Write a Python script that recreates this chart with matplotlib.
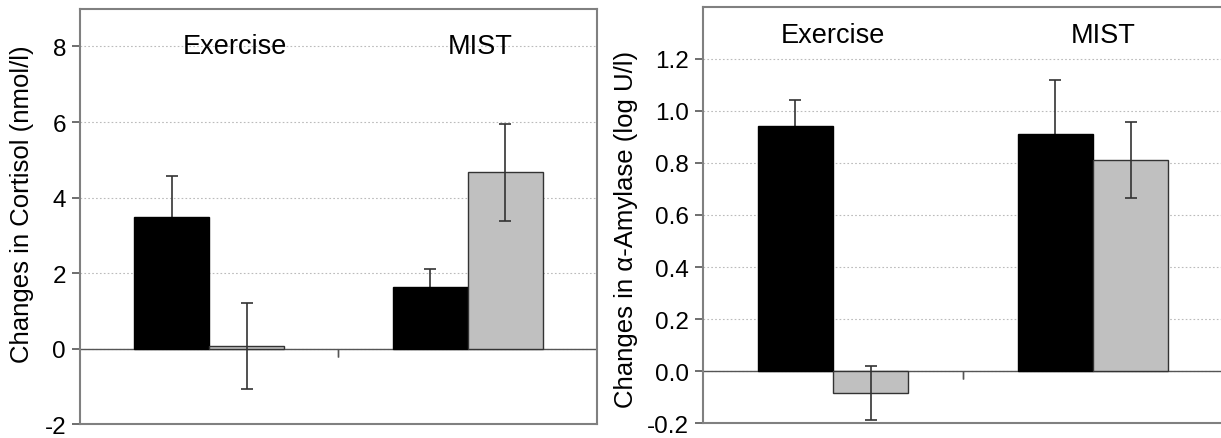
import matplotlib
matplotlib.use('Agg')
import matplotlib.pyplot as plt
import numpy as np

plt.rcParams['font.family'] = ['Liberation Sans', 'DejaVu Sans']

groups = ['Exercise', 'MIST']

# cortisol changes (nmol/l)
cort_black = [3.50, 1.63]
cort_black_err = [1.08, 0.47]
cort_gray = [0.07, 4.67]
cort_gray_err = [1.13, 1.28]

# alpha-amylase changes (log U/l)
amy_black = [0.94, 0.91]
amy_black_err = [0.10, 0.21]
amy_gray = [-0.085, 0.81]
amy_gray_err = [0.104, 0.146]

cort_ticks = [-2, 0, 2, 4, 6, 8]
amy_ticks = [-0.2, 0.0, 0.2, 0.4, 0.6, 0.8, 1.0, 1.2]

fig = plt.figure(figsize=(12.21, 4.39), dpi=100)
ax1 = fig.add_axes([0.0655, 0.031, 0.4234, 0.947])
ax2 = fig.add_axes([0.5758, 0.0335, 0.4259, 0.949])

x = np.arange(len(groups))
w = 0.29
spine_col = '#808080'
err_col = '#333333'


def draw(ax, black, black_err, gray, gray_err, ticks, ylim, ylabel, fmt, lab_pos, ylab_xy):
    # black bar error bars sit behind the bar, so only the upper half shows
    ax.errorbar(x - w / 2, black, yerr=black_err, fmt='none', ecolor=err_col,
                elinewidth=1.2, capsize=4, capthick=1.2, zorder=2.5)
    ax.bar(x - w / 2, black, w, color='black', edgecolor='black', linewidth=1, zorder=3)
    ax.bar(x + w / 2, gray, w, color='#c0c0c0', edgecolor='#333333', linewidth=1, zorder=3)
    ax.errorbar(x + w / 2, gray, yerr=gray_err, fmt='none', ecolor=err_col,
                elinewidth=1.2, capsize=4, capthick=1.2, zorder=4)
    ax.axhline(0, color='#555555', linewidth=1, zorder=2)
    ax.set_xlim(-0.5, 1.5)
    ax.set_ylim(*ylim)
    ax.set_yticks(ticks)
    ax.set_yticklabels([fmt.format(t) for t in ticks], fontsize=17.5)
    ax.yaxis.grid(True, linestyle=(0, (1.5, 2)), color='#bbbbbb', linewidth=0.8, zorder=0)
    ax.set_xticks([])
    # small middle tick on the zero line
    ax.plot([0.5, 0.5], [0, 0], color='#555555', marker=3, markersize=6, zorder=2,
            clip_on=False)
    for s in ax.spines.values():
        s.set_color(spine_col)
        s.set_linewidth(1.5)
    ax.tick_params(axis='y', direction='out', length=6, width=1.2, color='#555555', pad=4)
    ax.set_ylabel(ylabel, fontsize=18.5)
    ax.yaxis.set_label_coords(*ylab_xy)
    for g, (px, py) in zip(groups, lab_pos):
        ax.text(px, py, g, ha='center', va='center', fontsize=19.5)


draw(ax1, cort_black, cort_black_err, cort_gray, cort_gray_err, cort_ticks, (-2, 9),
     'Changes in Cortisol (nmol/l)', '{:g}', [(0.1, 8.0), (1.05, 8.0)], (-0.089, 0.533))
draw(ax2, amy_black, amy_black_err, amy_gray, amy_gray_err, amy_ticks, (-0.2, 1.4),
     'Changes in \u03b1-Amylase (log U/l)', '{:.1f}', [(0.0, 1.29), (1.04, 1.29)],
     (-0.125, 0.467))

fig.savefig('out.png', dpi=100)
